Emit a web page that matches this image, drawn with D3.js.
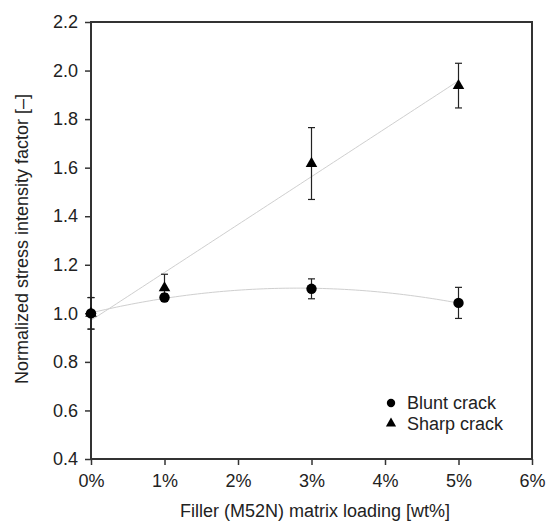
<!DOCTYPE html>
<html><head><meta charset="utf-8">
<script src="https://cdn.jsdelivr.net/npm/d3@7"></script>
<style>body{margin:0;background:#fff}svg{display:block}text{font-family:"Liberation Sans",Arial,sans-serif;fill:#222}</style>
</head><body><svg id="c" width="552" height="522"></svg>
<script>
const loadings = [0, 1, 3, 5];
const bluntValues = [1.000, 1.065, 1.101, 1.043];
const bluntErrors = [0.065, 0.015, 0.041, 0.064];
const sharpValues = [1.000, 1.105, 1.617, 1.938];
const sharpErrors = [0.065, 0.056, 0.148, 0.092];
const xTicks = [0, 1, 2, 3, 4, 5, 6];
const yTicks = [0.4, 0.6, 0.8, 1.0, 1.2, 1.4, 1.6, 1.8, 2.0, 2.2];
const seriesNames = ["Blunt crack", "Sharp crack"];

const svg = d3.select("#c");
const m = {l: 91, r: 532, t: 22, b: 459};
const x = d3.scaleLinear().domain([0, 6]).range([m.l, m.r]);
const y = d3.scaleLinear().domain([0.4, 2.2]).range([m.b, m.t]);

// least squares polynomial fit (trend lines)
function polyfit(xs, ys, deg) {
  const n = deg + 1;
  const A = Array.from({length: n}, () => new Array(n + 1).fill(0));
  for (let i = 0; i < xs.length; i++) {
    for (let r = 0; r < n; r++) {
      for (let c = 0; c < n; c++) A[r][c] += Math.pow(xs[i], r + c);
      A[r][n] += ys[i] * Math.pow(xs[i], r);
    }
  }
  for (let i = 0; i < n; i++) {
    let p = i;
    for (let k = i + 1; k < n; k++) if (Math.abs(A[k][i]) > Math.abs(A[p][i])) p = k;
    [A[i], A[p]] = [A[p], A[i]];
    for (let k = i + 1; k < n; k++) {
      const f = A[k][i] / A[i][i];
      for (let j = i; j <= n; j++) A[k][j] -= f * A[i][j];
    }
  }
  const co = new Array(n).fill(0);
  for (let i = n - 1; i >= 0; i--) {
    let s = A[i][n];
    for (let j = i + 1; j < n; j++) s -= A[i][j] * co[j];
    co[i] = s / A[i][i];
  }
  return t => co.reduce((a, c, k) => a + c * Math.pow(t, k), 0);
}
const fitB = polyfit(loadings, bluntValues, 2);
const fitS = polyfit(loadings, sharpValues, 1);
const ts = d3.range(0, 5.0001, 0.05);
const line = d3.line().x(d => x(d[0])).y(d => y(d[1]));
svg.append("path").attr("d", line(ts.map(t => [t, fitB(t)]))).attr("fill", "none").attr("stroke", "#cfcfcf").attr("stroke-width", 1);
svg.append("path").attr("d", line(ts.map(t => [t, fitS(t)]))).attr("fill", "none").attr("stroke", "#cfcfcf").attr("stroke-width", 1);

// frame
svg.append("rect").attr("x", m.l).attr("y", m.t).attr("width", m.r - m.l).attr("height", m.b - m.t)
  .attr("fill", "none").attr("stroke", "#333").attr("stroke-width", 2);

// axes
const xa = svg.append("g").attr("transform", `translate(0,${m.b})`)
  .call(d3.axisBottom(x).tickValues(xTicks).tickFormat(d => d + "%").tickSize(6).tickPadding(9));
const ya = svg.append("g").attr("transform", `translate(${m.l},0)`)
  .call(d3.axisLeft(y).tickValues(yTicks).tickFormat(d3.format(".1f")).tickSize(6).tickPadding(7));
[xa, ya].forEach(g => {
  g.select(".domain").remove();
  g.selectAll("line").attr("stroke", "#333").attr("stroke-width", 1.5);
  g.selectAll("text").attr("font-size", 18).attr("fill", "#222");
});

// error bars and markers
const series = [
  {vals: bluntValues, errs: bluntErrors, sym: d3.symbolCircle},
  {vals: sharpValues, errs: sharpErrors, sym: d3.symbolTriangle}
];
series.forEach(s => {
  loadings.forEach((l, i) => {
    const cx = x(l), lo = y(s.vals[i] - s.errs[i]), hi = y(s.vals[i] + s.errs[i]);
    const g = svg.append("g").attr("stroke", "#222").attr("stroke-width", 1.2);
    g.append("line").attr("x1", cx).attr("x2", cx).attr("y1", lo).attr("y2", hi);
    g.append("line").attr("x1", cx - 3.5).attr("x2", cx + 3.5).attr("y1", lo).attr("y2", lo);
    g.append("line").attr("x1", cx - 3.5).attr("x2", cx + 3.5).attr("y1", hi).attr("y2", hi);
  });
});
series.forEach(s => {
  svg.selectAll(null).data(loadings).enter().append("path")
    .attr("d", d3.symbol().type(s.sym).size(s.sym === d3.symbolCircle ? 85 : 58))
    .attr("transform", (d, i) => `translate(${x(d)},${y(s.vals[i])})`)
    .attr("fill", "#000");
});

// legend
const leg = svg.append("g").attr("transform", "translate(391,403)");
seriesNames.forEach((n, i) => {
  leg.append("path").attr("d", d3.symbol().type(i === 0 ? d3.symbolCircle : d3.symbolTriangle).size(i === 0 ? 55 : 45))
    .attr("transform", `translate(0,${i * 20.5})`).attr("fill", "#000");
  leg.append("text").attr("x", 16).attr("y", i * 20.5).attr("dy", "0.35em").attr("font-size", 18).text(n);
});

// axis titles
svg.append("text").attr("x", 315).attr("y", 517).attr("text-anchor", "middle").attr("font-size", 18)
  .text("Filler (M52N) matrix loading [wt%]");
svg.append("text").attr("transform", `translate(28,239) rotate(-90)`).attr("text-anchor", "middle").attr("font-size", 18)
  .text("Normalized stress intensity factor [–]");
</script></body></html>
